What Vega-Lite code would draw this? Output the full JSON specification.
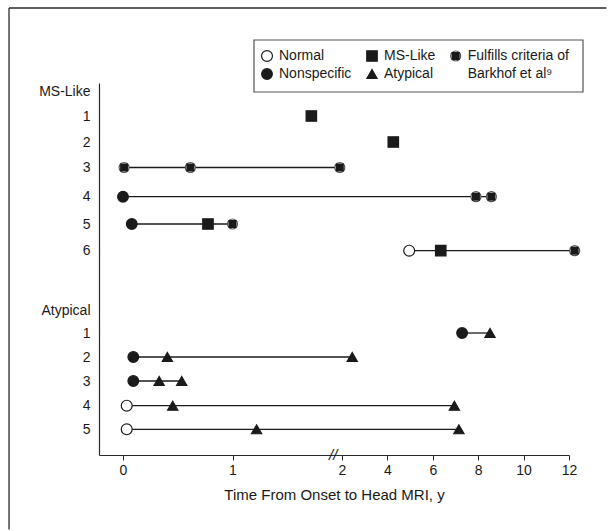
{
  "$schema": "https://vega.github.io/schema/vega-lite/v6.json",
  "width": 470,
  "height": 372,
  "autosize": "none",
  "padding": {"left": 99, "top": 83, "right": 39, "bottom": 76},
  "background": "white",
  "config": {
    "font": "Liberation Sans",
    "view": {"stroke": null},
    "axis": {"domainColor": "#2a2a2a", "tickColor": "#2a2a2a", "labelColor": "#1a1a1a", "titleColor": "#1a1a1a", "domainWidth": 1.2, "labelFont": "Liberation Sans", "titleFont": "Liberation Sans"}
  },
  "datasets": {
    "scans": [
      {"group": "MS-Like", "case": 1, "row": 1, "t": 1.72, "type": "MS-Like"},
      {"group": "MS-Like", "case": 2, "row": 2, "t": 4.26, "type": "MS-Like"},
      {"group": "MS-Like", "case": 3, "row": 3, "t": 0.01, "type": "Fulfills"},
      {"group": "MS-Like", "case": 3, "row": 3, "t": 0.615, "type": "Fulfills"},
      {"group": "MS-Like", "case": 3, "row": 3, "t": 1.98, "type": "Fulfills"},
      {"group": "MS-Like", "case": 4, "row": 4, "t": 0.0, "type": "Nonspecific"},
      {"group": "MS-Like", "case": 4, "row": 4, "t": 7.9, "type": "Fulfills"},
      {"group": "MS-Like", "case": 4, "row": 4, "t": 8.58, "type": "Fulfills"},
      {"group": "MS-Like", "case": 5, "row": 5, "t": 0.08, "type": "Nonspecific"},
      {"group": "MS-Like", "case": 5, "row": 5, "t": 0.776, "type": "MS-Like"},
      {"group": "MS-Like", "case": 5, "row": 5, "t": 1.0, "type": "Fulfills"},
      {"group": "MS-Like", "case": 6, "row": 6, "t": 4.96, "type": "Normal"},
      {"group": "MS-Like", "case": 6, "row": 6, "t": 6.35, "type": "MS-Like"},
      {"group": "MS-Like", "case": 6, "row": 6, "t": 12.25, "type": "Fulfills"},
      {"group": "Atypical", "case": 1, "row": 9, "t": 7.29, "type": "Nonspecific"},
      {"group": "Atypical", "case": 1, "row": 9, "t": 8.52, "type": "Atypical"},
      {"group": "Atypical", "case": 2, "row": 10, "t": 0.094, "type": "Nonspecific"},
      {"group": "Atypical", "case": 2, "row": 10, "t": 0.405, "type": "Atypical"},
      {"group": "Atypical", "case": 2, "row": 10, "t": 2.45, "type": "Atypical"},
      {"group": "Atypical", "case": 3, "row": 11, "t": 0.094, "type": "Nonspecific"},
      {"group": "Atypical", "case": 3, "row": 11, "t": 0.33, "type": "Atypical"},
      {"group": "Atypical", "case": 3, "row": 11, "t": 0.536, "type": "Atypical"},
      {"group": "Atypical", "case": 4, "row": 12, "t": 0.034, "type": "Normal"},
      {"group": "Atypical", "case": 4, "row": 12, "t": 0.454, "type": "Atypical"},
      {"group": "Atypical", "case": 4, "row": 12, "t": 6.95, "type": "Atypical"},
      {"group": "Atypical", "case": 5, "row": 13, "t": 0.034, "type": "Normal"},
      {"group": "Atypical", "case": 5, "row": 13, "t": 1.22, "type": "Atypical"},
      {"group": "Atypical", "case": 5, "row": 13, "t": 7.15, "type": "Atypical"}
    ],
    "key": [
      {"label": "Normal", "type": "Normal", "col": 0, "line": 0},
      {"label": "Nonspecific", "type": "Nonspecific", "col": 0, "line": 1},
      {"label": "MS-Like", "type": "MS-Like", "col": 1, "line": 0},
      {"label": "Atypical", "type": "Atypical", "col": 1, "line": 1},
      {"label": "Fulfills criteria of", "type": "Fulfills", "col": 2, "line": 0},
      {"label": "Barkhof et al⁹", "type": null, "col": 2, "line": 1}
    ]
  },
  "resolve": {"scale": {"x": "independent", "y": "independent"}},
  "layer": [
    {
      "data": {"name": "scans"},
      "encoding": {
        "x": {
          "field": "t", "type": "quantitative",
          "title": "Time From Onset to Head MRI, y",
          "scale": {"domain": [-0.2192, 0, 2, 12], "range": [0, 24, 243, 470], "nice": false, "zero": false},
          "axis": {"values": [0, 1, 2, 4, 6, 8, 10, 12], "format": "d", "tickSize": 5, "labelPadding": 3, "grid": false, "labelFlush": false, "labelOverlap": false, "labelFontSize": 14, "titleFontSize": 15, "titleFontWeight": "normal", "titlePadding": 10}
        },
        "y": {
          "field": "row", "type": "quantitative", "title": null,
          "scale": {"domain": [-0.32, 0, 1, 2, 3, 4, 5, 6, 8, 9, 10, 11, 12, 13, 14.07], "range": [0, 8, 33, 59, 84.5, 113.7, 141, 167.7, 227, 250, 274, 298, 322.7, 346.3, 372], "nice": false, "zero": false},
          "axis": {"values": [0, 1, 2, 3, 4, 5, 6, 8, 9, 10, 11, 12, 13], "labelExpr": "datum.value == 0 ? 'MS-Like' : datum.value == 8 ? 'Atypical' : '' + (datum.value < 8 ? datum.value : datum.value - 8)", "ticks": false, "tickSize": 0, "labelPadding": 9, "grid": false, "labelFlush": false, "labelOverlap": false, "labelFontSize": 14}
        }
      },
      "layer": [
        {
          "mark": {"type": "line", "color": "#1a1a1a", "strokeWidth": 1.3},
          "encoding": {"detail": {"field": "row", "type": "nominal"}, "order": {"field": "t", "type": "quantitative"}}
        },
        {
          "mark": {"type": "point", "opacity": 1, "strokeWidth": 1.2},
          "encoding": {
            "shape": {"field": "type", "type": "nominal", "legend": null, "scale": {"domain": ["Normal", "Nonspecific", "MS-Like", "Atypical", "Fulfills"], "range": ["circle", "circle", "square", "triangle-up", "circle"]}},
            "fill": {"field": "type", "type": "nominal", "legend": null, "scale": {"domain": ["Normal", "Nonspecific", "MS-Like", "Atypical", "Fulfills"], "range": ["#ffffff", "#1a1a1a", "#1a1a1a", "#1a1a1a", "#ffffff"]}},
            "stroke": {"field": "type", "type": "nominal", "legend": null, "scale": {"domain": ["Normal", "Nonspecific", "MS-Like", "Atypical", "Fulfills"], "range": ["#1a1a1a", "#1a1a1a", "#1a1a1a", "#1a1a1a", "#555555"]}},
            "size": {"field": "type", "type": "nominal", "legend": null, "scale": {"domain": ["Normal", "Nonspecific", "MS-Like", "Atypical", "Fulfills"], "range": [119, 100, 108, 115, 125]}}
          }
        },
        {
          "transform": [{"filter": "datum.type == 'Fulfills'"}],
          "mark": {"type": "point", "shape": "square", "filled": true, "color": "#1a1a1a", "opacity": 1, "size": 64}
        },
        {
          "transform": [{"filter": "datum.row == 1"}],
          "mark": {"type": "text", "text": "//", "fontSize": 15, "fontStyle": "italic", "color": "#1a1a1a", "align": "center", "baseline": "middle"},
          "encoding": {
            "x": {"datum": 1.92, "type": "quantitative", "title": "Time From Onset to Head MRI, y"},
            "y": {"datum": 14.07, "type": "quantitative", "title": null}
          }
        }
      ]
    },
    {
      "data": {"name": "key"},
      "encoding": {
        "x": {"field": "col", "type": "quantitative", "axis": null, "scale": {"domain": [0, 1, 2], "range": [168, 273, 356.7], "nice": false, "zero": false}},
        "y": {"field": "line", "type": "quantitative", "axis": null, "scale": {"domain": [0, 1], "range": [-27, -9], "nice": false, "zero": false}}
      },
      "layer": [
        {
          "transform": [{"filter": "datum.col == 0 && datum.line == 0"}],
          "mark": {"type": "rect", "fill": "#ffffff", "stroke": "#555555", "strokeWidth": 1.2},
          "encoding": {
            "x": {"datum": -0.124, "type": "quantitative", "axis": null},
            "x2": {"datum": 3.521},
            "y": {"datum": -0.889, "type": "quantitative", "axis": null},
            "y2": {"datum": 2.0}
          }
        },
        {
          "transform": [{"filter": "datum.col == 0 && datum.line == 0"}],
          "mark": {"type": "rule", "color": "#2a2a2a", "strokeWidth": 1.3},
          "encoding": {
            "x": {"datum": -2.457, "type": "quantitative", "axis": null},
            "y": {"datum": -2.667, "type": "quantitative", "axis": null},
            "y2": {"datum": 26.3}
          }
        },
        {
          "transform": [{"filter": "datum.col == 0 && datum.line == 0"}],
          "mark": {"type": "rule", "color": "#2a2a2a", "strokeWidth": 1.3},
          "encoding": {
            "x": {"datum": -2.457, "type": "quantitative", "axis": null},
            "x2": {"datum": 3.8},
            "y": {"datum": -2.667, "type": "quantitative", "axis": null}
          }
        },
        {
          "transform": [{"filter": "datum.type != null"}],
          "mark": {"type": "point", "opacity": 1, "strokeWidth": 1.2},
          "encoding": {
            "shape": {"field": "type", "type": "nominal", "legend": null},
            "fill": {"field": "type", "type": "nominal", "legend": null},
            "stroke": {"field": "type", "type": "nominal", "legend": null},
            "size": {"field": "type", "type": "nominal", "legend": null}
          }
        },
        {
          "transform": [{"filter": "datum.type == 'Fulfills'"}],
          "mark": {"type": "point", "shape": "square", "filled": true, "color": "#1a1a1a", "opacity": 1, "size": 64}
        },
        {
          "mark": {"type": "text", "align": "left", "baseline": "middle", "dx": 12, "fontSize": 14, "color": "#1a1a1a", "font": "Liberation Sans"},
          "encoding": {"text": {"field": "label", "type": "nominal"}}
        }
      ]
    }
  ]
}
